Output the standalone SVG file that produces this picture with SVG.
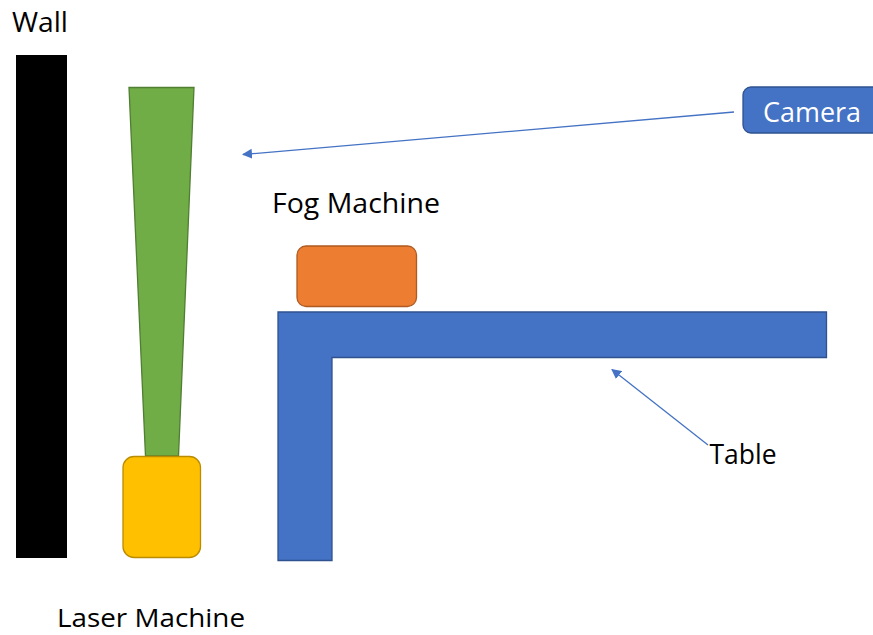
<svg xmlns="http://www.w3.org/2000/svg" width="873" height="635" viewBox="0 0 873 635">
<style>
.lbl{font-family:"Open Sans","Liberation Sans",sans-serif;font-size:28px;fill:#000}
.conn{stroke:#4472C4;stroke-width:1.3;fill:none}
</style>
<defs>
<marker id="ah" viewBox="0 0 10 10" refX="9" refY="5" markerWidth="10" markerHeight="10" markerUnits="userSpaceOnUse" orient="auto">
<path d="M0,0 L10,5 L0,10 z" fill="#4472C4"/>
</marker>
</defs>
<rect width="873" height="635" fill="#fff"/>
<g id="wall">
<rect x="16" y="55" width="51" height="503" fill="#000"/>
<text class="lbl" x="12" y="31.5" textLength="56" lengthAdjust="spacingAndGlyphs">Wall</text>
</g>
<g id="laser-beam">
<path d="M129,87.5 H194 L178.5,456 H145.5 Z" fill="#70AD47" stroke="#507E32" stroke-width="1.3"/>
</g>
<g id="laser-machine">
<rect x="123" y="456.5" width="77.5" height="101" rx="11" fill="#FFC000" stroke="#BC8C00" stroke-width="1.3"/>
<text class="lbl" x="57" y="627" textLength="188" lengthAdjust="spacingAndGlyphs" style="font-size:26px">Laser Machine</text>
</g>
<g id="fog-machine">
<rect x="297" y="246" width="119.5" height="60.5" rx="9" fill="#ED7D31" stroke="#AE5A21" stroke-width="1.3"/>
<text class="lbl" x="272" y="213.3" textLength="168" lengthAdjust="spacingAndGlyphs">Fog Machine</text>
</g>
<g id="table">
<path d="M278,312 H826.5 V357.5 H332 V560.5 H278 Z" fill="#4472C4" stroke="#2F528F" stroke-width="1.3"/>
<text class="lbl" x="709.5" y="464.3" textLength="67" lengthAdjust="spacingAndGlyphs">Table</text>
</g>
<g id="camera">
<rect x="743" y="87" width="150" height="46" rx="8" fill="#4472C4" stroke="#2F528F" stroke-width="1.3"/>
<text class="lbl" x="763" y="121.7" textLength="98" lengthAdjust="spacingAndGlyphs" style="fill:#fff">Camera</text>
</g>
<g id="connectors">
<line class="conn" x1="734" y1="112" x2="243" y2="154.5" marker-end="url(#ah)"/>
<line class="conn" x1="708" y1="445" x2="612" y2="369.5" marker-end="url(#ah)"/>
</g>
</svg>
